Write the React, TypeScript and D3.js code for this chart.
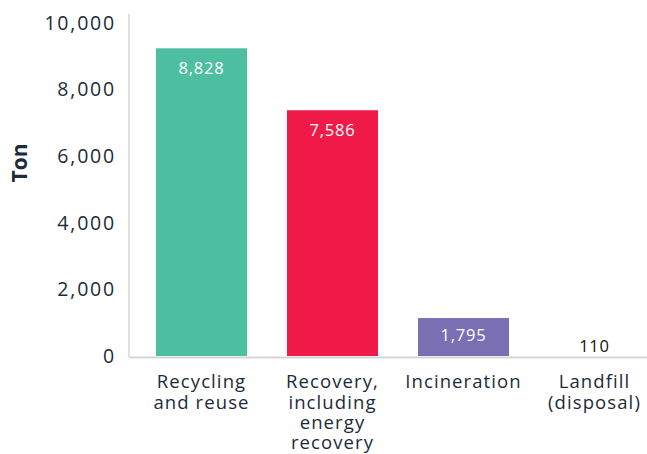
import React from "react";
import * as d3 from "d3";

const categories: string[][] = [
  ["Recycling", "and reuse"],
  ["Recovery,", "including", "energy", "recovery"],
  ["Incineration"],
  ["Landfill", "(disposal)"],
];
// bar heights as drawn in the picture
const barValues = [9240, 7380, 1140, 0];
// value labels printed on the bars
const valueLabels = ["8,828", "7,586", "1,795", "110"];
const barColors = ["#4dbfa0", "#ef1a48", "#7b6fb3", "#ffffff"];
const yTicks = [0, 2000, 4000, 6000, 8000, 10000];
const yTitle = "Ton";

const W = 647;
const H = 454;
const textColor = "#1c2b39";
const font = "'Open Sans', sans-serif";

export default function App() {
  const y = d3.scaleLinear().domain([0, 10000]).range([356, 23]);
  const x = d3
    .scaleBand<number>()
    .domain(d3.range(categories.length))
    .range([156, 640])
    .paddingInner(0.305)
    .paddingOuter(0);
  const fmt = d3.format(",");
  return (
    <svg
      width={W}
      height={H}
      style={{ position: "absolute", left: 0, top: 0, fontFamily: font }}
    >
      <rect width={W} height={H} fill="#fff" />
      {/* axes */}
      <line x1={129} x2={129} y1={14} y2={357} stroke="#d6d6d6" strokeWidth={1.5} />
      <line x1={129} x2={W} y1={357.5} y2={357.5} stroke="#d6d6d6" strokeWidth={2} />
      {yTicks.map((t) => (
        <text
          key={t}
          x={116}
          y={y(t)}
          dy="0.35em"
          textAnchor="end"
          fontSize={19.5}
          letterSpacing={1.8}
          fill={textColor}
        >
          {fmt(t)}
        </text>
      ))}
      <text
        transform={`translate(27,163) rotate(-90)`}
        textAnchor="middle"
        fontSize={21}
        fontWeight={700}
        fill={textColor}
      >
        {yTitle}
      </text>
      {barValues.map((v, i) => {
        const bx = x(i)!;
        const bw = x.bandwidth();
        const top = y(v);
        const cx = bx + bw / 2;
        return (
          <g key={i}>
            {v > 0 && (
              <rect x={bx} y={top} width={bw} height={y(0) - top} fill={barColors[i]} />
            )}
            <text
              x={cx}
              y={v > 0 ? top + (i === 2 ? 17 : 20) : y(0) - 10}
              dy="0.35em"
              textAnchor="middle"
              fontSize={16.5}
              letterSpacing={0.8}
              fill={v > 0 ? "#ffffff" : "#111"}
            >
              {valueLabels[i]}
            </text>
            <text
              textAnchor="middle"
              fontSize={18.5}
              letterSpacing={1.1}
              fill={textColor}
            >
              {categories[i].map((line, j) => (
                <tspan key={j} x={cx} y={382 + j * 20.3} dy="0.35em">
                  {line}
                </tspan>
              ))}
            </text>
          </g>
        );
      })}
    </svg>
  );
}
